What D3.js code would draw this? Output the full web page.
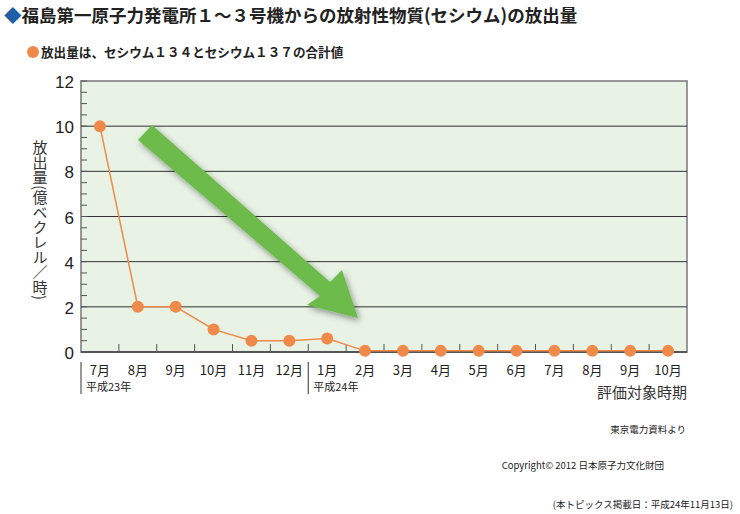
<!DOCTYPE html>
<html><head><meta charset="utf-8">
<script src="https://cdn.jsdelivr.net/npm/d3@7"></script>
<style>body{margin:0;background:#fff;font-family:"Noto Sans CJK JP",sans-serif}</style>
</head><body>
<script>
var months = ["7月","8月","9月","10月","11月","12月","1月","2月","3月","4月","5月","6月","7月","8月","9月","10月"];
var values = [10, 2, 2, 1, 0.5, 0.5, 0.6, 0.05, 0.05, 0.05, 0.05, 0.05, 0.05, 0.05, 0.05, 0.05];
var yTicks = [0, 2, 4, 6, 8, 10, 12];
var years = [{label:"平成23年", idx:0}, {label:"平成24年", idx:6}];

var w = 740, h = 514;
var svg = d3.select("body").append("svg").attr("width", w).attr("height", h);
var orange = "#ef8a4a";

var x = d3.scaleBand().domain(d3.range(months.length)).range([81, 687]);
var y = d3.scaleLinear().domain([0, 12]).range([352, 81]);

//TITLE
svg.append("text").attr("x", 4).attr("y", 22).attr("font-size", 17.5).attr("font-weight", "bold").attr("fill", "#222")
  .html('<tspan fill="#1f5fa8">◆</tspan>福島第一原子力発電所１～３号機からの放射性物質(セシウム)の放出量');
svg.append("circle").attr("cx", 33).attr("cy", 52).attr("r", 6).attr("fill", orange);
svg.append("text").attr("x", 41).attr("y", 57).attr("font-size", 12.6).attr("font-weight", "bold").attr("fill", "#222")
  .text("放出量は、セシウム１３４とセシウム１３７の合計値");

//PLOT AREA
svg.append("rect").attr("x", 81).attr("y", 81).attr("width", 606).attr("height", 271)
  .attr("fill", "#e8f3e6").attr("stroke", "#777").attr("stroke-width", 1.5);
svg.selectAll(".grid").data(yTicks.slice(1, -1)).join("line")
  .attr("x1", 81).attr("x2", 687).attr("y1", d => y(d)).attr("y2", d => y(d))
  .attr("stroke", "#333").attr("stroke-width", 1);
svg.selectAll(".minor").data(d3.range(0, 12.01, 0.5)).join("line")
  .attr("x1", 81).attr("x2", 87).attr("y1", d => y(d)).attr("y2", d => y(d)).attr("stroke", "#555");
svg.selectAll(".ytl").data(yTicks).join("text")
  .attr("x", 74).attr("y", d => y(d) + 7).attr("text-anchor", "end").attr("font-size", 17)
  .attr("font-family", "Liberation Sans, sans-serif").attr("fill", "#222").text(d => d);
svg.append("line").attr("x1", 81).attr("x2", 687).attr("y1", 352).attr("y2", 352).attr("stroke", "#555").attr("stroke-width", 2);
svg.selectAll(".xt").data(d3.range(1, months.length)).join("line")
  .attr("x1", d => x(d)).attr("x2", d => x(d)).attr("y1", 344).attr("y2", 352).attr("stroke", "#555");
svg.selectAll(".xl").data(months).join("text")
  .attr("x", (d, i) => x(i) + x.bandwidth() / 2).attr("y", 375).attr("text-anchor", "middle")
  .attr("font-size", 13).attr("fill", "#222").text(d => d);
years.forEach(function(yr){
  var xx = x(yr.idx);
  svg.append("line").attr("x1", xx).attr("x2", xx).attr("y1", 362).attr("y2", 394).attr("stroke", "#333");
  svg.append("text").attr("x", xx + 5).attr("y", 391).attr("font-size", 11).attr("fill", "#222").text(yr.label);
});
svg.append("text").attr("x", 687).attr("y", 398).attr("text-anchor", "end").attr("font-size", 15).attr("fill", "#333").text("評価対象時期");

//Y LABEL (vertical)
var yl = svg.append("text").attr("x", 40).attr("y", 140).attr("font-size", 15).attr("fill", "#333")
  .attr("writing-mode", "vertical-rl").attr("glyph-orientation-vertical", 0);
yl.text("放出量(億ベクレル／時)");

//ARROW
var defs = svg.append("defs");
defs.append("filter").attr("id", "sh").append("feDropShadow").attr("dx", 2).attr("dy", 3).attr("stdDeviation", 3).attr("flood-opacity", 0.4);
svg.append("polygon").attr("points", "138,140 152,125 330,282 342,270 358,318 307,305 320,296")
  .attr("fill", "#6cbb4c").attr("filter", "url(#sh)");

//LINE
svg.append("path").datum(values)
  .attr("d", d3.line().x((d, i) => x(i) + x.bandwidth() / 2).y(d => y(d)))
  .attr("fill", "none").attr("stroke", orange).attr("stroke-width", 1.5);
svg.selectAll(".pt").data(values).join("circle")
  .attr("cx", (d, i) => x(i) + x.bandwidth() / 2).attr("cy", d => y(d)).attr("r", 6).attr("fill", orange);

//NOTES
svg.append("text").attr("x", 686).attr("y", 433).attr("text-anchor", "end").attr("font-size", 9.5).attr("fill", "#222").text("東京電力資料より");
svg.append("text").attr("x", 664).attr("y", 469).attr("text-anchor", "end").attr("font-size", 9.5).attr("fill", "#222").text("Copyright© 2012 日本原子力文化財団");
svg.append("text").attr("x", 733).attr("y", 508).attr("text-anchor", "end").attr("font-size", 9.5).attr("fill", "#222").text("(本トピックス掲載日：平成24年11月13日)");
</script>
</body></html>
